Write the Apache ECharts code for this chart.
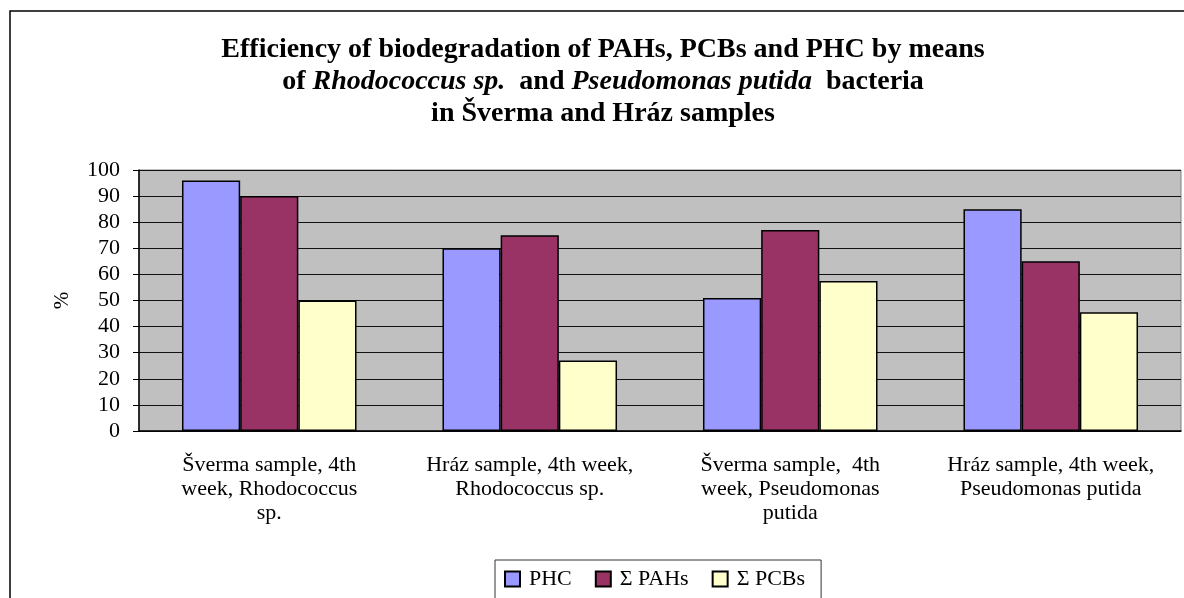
<!DOCTYPE html>
<html>
<head>
<meta charset="utf-8">
<script src="https://cdn.jsdelivr.net/npm/echarts@6/dist/echarts.min.js"></script>
<style>
  html, body { margin: 0; padding: 0; background: #fff; }
  #chart { width: 1184px; height: 598px; }
</style>
</head>
<body>
<div id="chart"></div>
<script>
  // categories and values
  const categories = [
    'Šverma sample, 4th\nweek, Rhodococcus\nsp.',
    'Hráz sample, 4th week,\nRhodococcus sp.',
    'Šverma sample,  4th\nweek, Pseudomonas\nputida',
    'Hráz sample, 4th week,\nPseudomonas putida'
  ]
  const seriesNames = ['PHC', 'Σ PAHs', 'Σ PCBs']
  const phc = [96, 70, 51, 85]
  const pahs = [90, 75, 77, 65]
  const pcbs = [50, 27, 57.5, 45.5]
  const colors = ['#9999FF', '#993366', '#FFFFCC']

  const serif = '"Liberation Serif", "Times New Roman", serif'

  let chart = echarts.init(document.getElementById('chart'))

  let titleLine = (text, top) => ({
    text: text,
    left: 598,
    top: top,
    textAlign: 'center',
    textStyle: {
      fontFamily: serif,
      fontSize: 28,
      fontWeight: 'bold',
      color: '#000',
      rich: {
        b: { fontFamily: serif, fontSize: 28, fontWeight: 'bold', color: '#000' },
        i: { fontFamily: serif, fontSize: 28, fontWeight: 'bold', fontStyle: 'italic', color: '#000' }
      }
    }
  })

  let bar = (name, data, color) => ({
    name: name,
    type: 'bar',
    data: data,
    barGap: '0%',
    barCategoryGap: '33%',
    itemStyle: { color: color, borderColor: '#000', borderWidth: 1.5 }
  })

  let option = {
    animation: false,
    backgroundColor: '#fff',
    title: [
      titleLine('{b|Efficiency of biodegradation of PAHs, PCBs and PHC by means}', 31),
      titleLine('{b|of }{i|Rhodococcus sp.}{b|  and }{i|Pseudomonas putida}{b|  bacteria}', 63),
      titleLine('{b|in Šverma and Hráz samples}', 95)
    ],
    graphic: [{
      type: 'rect',
      shape: { x: 10, y: 11, width: 1200, height: 620 },
      style: { fill: null, stroke: '#000', lineWidth: 1.5 },
      silent: true
    }],
    legend: {
      data: seriesNames,
      top: 560,
      left: 495,
      padding: [8, 16, 20, 9],
      borderColor: '#333',
      borderWidth: 1,
      icon: 'rect',
      itemWidth: 15,
      itemHeight: 15,
      itemGap: 23,
      textStyle: { fontFamily: serif, fontSize: 22, color: '#000', padding: [0, 0, 0, 4] }
    },
    grid: {
      left: 139,
      right: 3,
      top: 170,
      bottom: 167,
      show: true,
      backgroundColor: '#C0C0C0',
      borderColor: '#808080',
      borderWidth: 1
    },
    xAxis: {
      type: 'category',
      data: categories,
      axisLine: { lineStyle: { color: '#000', width: 1.5 } },
      axisTick: { length: 6, lineStyle: { color: '#000' } },
      axisLabel: {
        interval: 0,
        margin: 22,
        lineHeight: 24,
        fontFamily: serif,
        fontSize: 22,
        color: '#000'
      }
    },
    yAxis: {
      type: 'value',
      min: 0,
      max: 100,
      interval: 10,
      name: '%',
      nameLocation: 'middle',
      nameGap: 66,
      nameRotate: 90,
      nameTextStyle: { fontFamily: serif, fontSize: 21, color: '#000' },
      axisLine: { show: true, lineStyle: { color: '#000', width: 1.5 } },
      axisTick: { show: true, length: 6, lineStyle: { color: '#000' } },
      axisLabel: { margin: 19, fontFamily: serif, fontSize: 22, color: '#000' },
      splitLine: { lineStyle: { color: '#111', width: 1.2 } }
    },
    series: [
      bar(seriesNames[0], phc, colors[0]),
      bar(seriesNames[1], pahs, colors[1]),
      bar(seriesNames[2], pcbs, colors[2])
    ]
  }

  chart.setOption(option)
</script>
</body>
</html>
